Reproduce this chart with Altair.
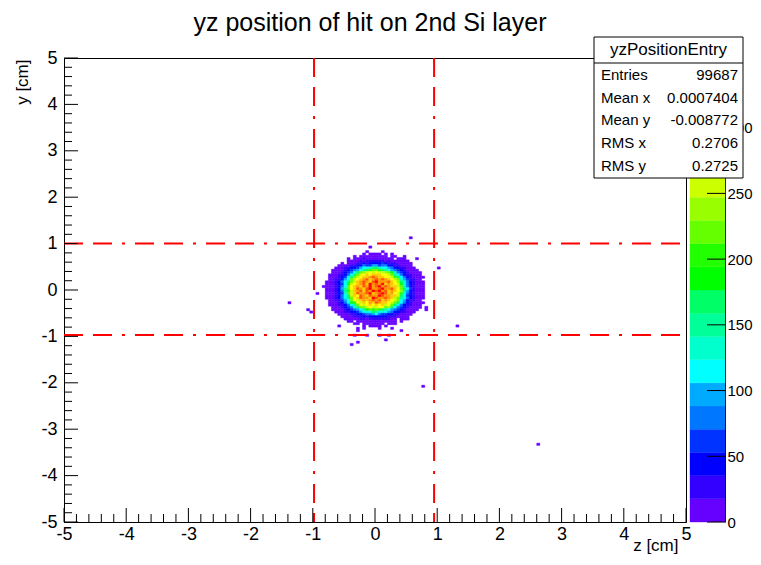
import altair as alt
import pandas as pd
import numpy as np

FONT = "Liberation Sans"
TITLE = "yz position of hit on 2nd Si layer"
X_TITLE = "z [cm]"
Y_TITLE = "y [cm]"
AXIS_TICKS = [-5, -4, -3, -2, -1, 0, 1, 2, 3, 4, 5]
MINOR_TICKS = [round(-5 + 0.2 * i, 1) for i in range(51) if i % 5 != 0]

# ROOT rainbow palette, 20 contour levels (bottom -> top)
PALETTE = ["#6600ff", "#3300ff", "#0000ff", "#0033ff", "#0077ff",
           "#00aaff", "#00ffff", "#00ffcc", "#00ff99", "#00ff66",
           "#00ff00", "#22ff00", "#66ff00", "#99ff00", "#ccff00",
           "#ffff00", "#ffcc00", "#ff9900", "#ff5500", "#ff0000"]
Z_MAX = 353
Z_TICKS = [0, 50, 100, 150, 200, 250, 300]

CUT_Z = [-0.98, 0.95]
CUT_Y = [1.0, -0.97]

STAT_TITLE = "yzPositionEntry"
STAT_LABELS = ["Entries", "Mean x", "Mean y", "RMS x", "RMS y"]
STAT_VALUES = ["99687", "0.0007404", "-0.008772", "0.2706", "0.2725"]

# histogram cells (bin 0.05 cm); column 0 starts at z=-0.90, first row is y bin 16 (0.80..0.85)
BIN = 0.05
Z_START = -0.90
ROW_TOP = 16
LEVEL_CODES = "123456789abcdefghijk"
ROWS = [
    "...............1....1..............",
    "..............1.1111.1.1...........",
    "...........1.111111111.11..1.......",
    ".........1.1112111111111.111.......",
    ".........11112122222212111111......",
    ".......1.111223233334322211111.....",
    "......111122335446645533221111.....",
    ".....1112233467789a877653322111....",
    "....11112345679acddca97654321111...",
    "....11123457adefgfgffedb854321111..",
    "...11122357adfghghhhggfd975322111..",
    "...1112347adfghhijihhggfca75321111.",
    "...1122367dfghijhijijihgfd8642211..",
    "..1112357adfhijihjkiiijhgea8532111.",
    "..1112347bfghijhkijikhihgfb7532111.",
    ".11112357dghihjikijkijihhfd8532111.",
    "..1112369dghjihjkiijkiijhgda742111.",
    "..1112359cfhijhjikjkijhihge9632111.",
    "..1112348dfhjiijkhijkjhigfc7532111.",
    "..1112357afhgjihjiikjiihhfa7432111.",
    "..1112357adghjiihkjiijihfd97532111.",
    "...1122467dgfhihijijhihgfd7632211..",
    "...1112357bcgfhgihjihhgfda75321111.",
    "...111223579dgfghghghfgda75322111..",
    "....11123458addfgffggdea754321111..",
    "....11112345679bdcdca97654321111..1",
    ".....111223346787a9787653322111....",
    "......111122334556754433221111.....",
    ".......1111222323333332221111......",
    "........11111221222222211.111......",
    ".........11.1111111111111.1........",
    "...........11.1111111.111..........",
    "..............1.1111.1.............",
    "............1.1....1...1...........",
]

# isolated hits (cm)
STRAY_Z = [0.56, -1.37, 1.32, 2.62, 0.78, -0.93, -1.08, -1.03, -0.29, -0.35,
           -0.29, -0.37, -0.11, 0.08, 0.24, 0.16, 0.42, -0.56, 0.84, 1.01, -0.08, 0.68]
STRAY_Y = [1.13, -0.26, -0.78, -3.32, -2.07, -0.10, -0.43, -0.47, -0.88, -0.97,
           -1.14, -1.16, -1.00, -1.00, -1.00, -1.08, -0.90, -0.78, -0.39, 0.45, 0.90, 0.65]

W, H = 622, 464
LAB = 18

recs = []
for r, s in enumerate(ROWS):
    j = ROW_TOP - r
    for p, ch in enumerate(s):
        if ch != ".":
            z0 = Z_START + p * BIN
            y0 = j * BIN
            recs.append({"z": z0, "z2": z0 + BIN, "y": y0, "y2": y0 + BIN,
                         "lev": LEVEL_CODES.index(ch) + 1})
cells = pd.DataFrame(recs)

sz = np.floor(np.array(STRAY_Z) / BIN) * BIN
sy = np.floor(np.array(STRAY_Y) / BIN) * BIN
strays = pd.DataFrame({"z": sz, "z2": sz + BIN, "y": sy, "y2": sy + BIN, "lev": 1})

xs = alt.Scale(domain=[-5, 5], nice=False, zero=False)
ys = alt.Scale(domain=[-5, 5], nice=False, zero=False)
cscale = alt.Scale(domain=list(range(1, 21)), range=PALETTE)

x_axis = alt.Axis(values=AXIS_TICKS, tickSize=0, labelFont=FONT, labelFontSize=LAB,
                  labelColor="black", labelPadding=3, domainColor="black", grid=False,
                  labelFlush=False, labelOverlap=False, labelExpr="'' + datum.value",
                  title=X_TITLE, titleFont=FONT, titleFontSize=17, titleFontWeight="normal",
                  titleColor="black", titleAlign="right", titleAnchor="end",
                  titleX=W - 8, titleY=15, titleBaseline="top")
y_axis = alt.Axis(values=AXIS_TICKS, tickSize=0, labelFont=FONT, labelFontSize=LAB,
                  labelColor="black", labelPadding=7, domainColor="black", grid=False,
                  labelFlush=False, labelOverlap=False, labelExpr="'' + datum.value",
                  title=Y_TITLE, titleFont=FONT, titleFontSize=17, titleFontWeight="normal",
                  titleColor="black", titleAlign="right", titleAnchor="end", titleAngle=270,
                  titleX=-42, titleY=1, titleBaseline="middle")

heat = alt.Chart(cells).mark_rect(strokeWidth=0.4).encode(
    x=alt.X("z:Q", scale=xs, axis=x_axis),
    x2="z2:Q",
    y=alt.Y("y:Q", scale=ys, axis=y_axis),
    y2="y2:Q",
    color=alt.Color("lev:O", scale=cscale, legend=None),
    stroke=alt.Stroke("lev:O", scale=cscale, legend=None),
)
stray = alt.Chart(strays).mark_rect(strokeWidth=0.4).encode(
    x=alt.X("z:Q", scale=xs), x2="z2:Q",
    y=alt.Y("y:Q", scale=ys), y2="y2:Q",
    color=alt.Color("lev:O", scale=cscale, legend=None),
    stroke=alt.Stroke("lev:O", scale=cscale, legend=None),
)

DASH = [19, 10, 19, 10, 3, 10]
vcut = alt.Chart(pd.DataFrame({"z": CUT_Z})).mark_rule(color="#ff0000", strokeWidth=2, strokeDash=DASH).encode(
    x=alt.X("z:Q", scale=xs), y=alt.value(0), y2=alt.value(H))
hcut = alt.Chart(pd.DataFrame({"y": CUT_Y})).mark_rule(color="#ff0000", strokeWidth=2, strokeDash=DASH).encode(
    y=alt.Y("y:Q", scale=ys), x=alt.value(0), x2=alt.value(W))

xmaj = alt.Chart(pd.DataFrame({"z": AXIS_TICKS})).mark_rule(color="black", strokeWidth=1).encode(
    x=alt.X("z:Q", scale=xs), y=alt.value(H), y2=alt.value(H - 14))
xmin = alt.Chart(pd.DataFrame({"z": MINOR_TICKS})).mark_rule(color="black", strokeWidth=1).encode(
    x=alt.X("z:Q", scale=xs), y=alt.value(H), y2=alt.value(H - 8))
ymaj = alt.Chart(pd.DataFrame({"y": AXIS_TICKS})).mark_rule(color="black", strokeWidth=1).encode(
    y=alt.Y("y:Q", scale=ys), x=alt.value(0), x2=alt.value(14))
ymin = alt.Chart(pd.DataFrame({"y": MINOR_TICKS})).mark_rule(color="black", strokeWidth=1).encode(
    y=alt.Y("y:Q", scale=ys), x=alt.value(0), x2=alt.value(8))

main = alt.layer(heat, stray, vcut, hcut, xmaj, xmin, ymaj, ymin)

# colour bar
step = Z_MAX / 20.0
cb = pd.DataFrame({"lev": list(range(1, 21))})
cb["c"] = (cb["lev"] - 1) * step
cb["c2"] = cb["lev"] * step
cs = alt.Scale(domain=[0, Z_MAX], nice=False, zero=True)
c_axis = alt.Axis(orient="right", offset=39, values=Z_TICKS, tickSize=0, labelFont=FONT,
                  labelFontSize=15, labelColor="black", labelPadding=2, domainColor="black",
                  grid=False, labelFlush=False, labelOverlap=False, title=None)
cbar = alt.Chart(cb).mark_rect(strokeWidth=0.4).encode(
    x=alt.value(626), x2=alt.value(661),
    y=alt.Y("c:Q", scale=cs, axis=c_axis), y2="c2:Q",
    color=alt.Color("lev:O", scale=cscale, legend=None),
    stroke=alt.Stroke("lev:O", scale=cscale, legend=None),
)
cticks = alt.Chart(pd.DataFrame({"c": Z_TICKS})).mark_rule(color="black", strokeWidth=1).encode(
    y=alt.Y("c:Q", scale=cs), x=alt.value(643), x2=alt.value(661))
colorbar = alt.layer(cbar, cticks)

# stats box and title
one = pd.DataFrame({"a": [0]})
box = alt.Chart(one).mark_rect(fill="white", stroke="black", strokeWidth=1).encode(
    x=alt.value(530), x2=alt.value(679), y=alt.value(-21), y2=alt.value(120))
sep = alt.Chart(one).mark_rule(color="black", strokeWidth=1).encode(
    x=alt.value(530), x2=alt.value(679), y=alt.value(5))
texts = [box, sep,
         alt.Chart(pd.DataFrame({"t": [STAT_TITLE]})).mark_text(
             font=FONT, fontSize=17, align="center", baseline="middle", color="black").encode(
             x=alt.value(604.5), y=alt.value(-8), text="t:N"),
         alt.Chart(pd.DataFrame({"t": [TITLE]})).mark_text(
             font=FONT, fontSize=25, align="center", baseline="alphabetic", color="black").encode(
             x=alt.value(306), y=alt.value(-27), text="t:N")]
ROW_Y = [17, 40, 62, 85, 108]
for lab, val, yy in zip(STAT_LABELS, STAT_VALUES, ROW_Y):
    texts.append(alt.Chart(pd.DataFrame({"t": [lab]})).mark_text(
        font=FONT, fontSize=15, align="left", baseline="middle", color="black").encode(
        x=alt.value(537), y=alt.value(yy), text="t:N"))
    texts.append(alt.Chart(pd.DataFrame({"t": [val]})).mark_text(
        font=FONT, fontSize=15, align="right", baseline="middle", color="black").encode(
        x=alt.value(674), y=alt.value(yy), text="t:N"))

chart = alt.layer(main, colorbar, *texts).resolve_scale(y="independent").properties(
    width=W, height=H,
    autosize=alt.AutoSizeParams(type="none"),
    padding={"left": 56, "top": 50, "right": 67, "bottom": 35},
    background="white",
).configure_view(stroke="black", strokeWidth=1)

chart.save("out.html", embed_options={"renderer": "svg", "actions": False})
